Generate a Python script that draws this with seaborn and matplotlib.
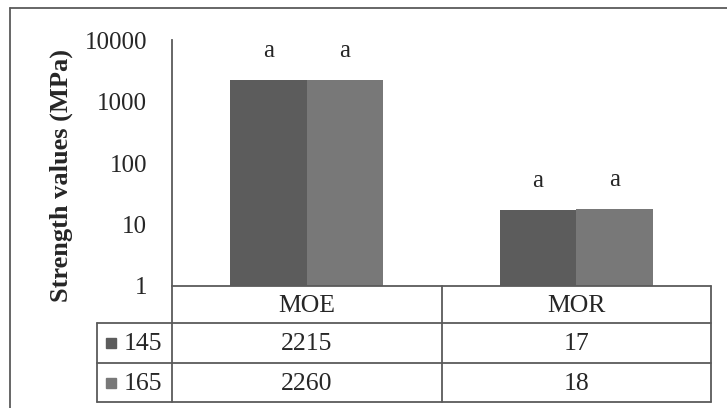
import pandas as pd
import matplotlib.pyplot as plt
import matplotlib.lines as mlines
import matplotlib.patches as mpatches
import seaborn as sns

# Data
properties = ['MOE', 'MOR']
temps = ['145', '165']
values_145 = [2215, 17]
values_165 = [2260, 18]
letters_145 = ['a', 'a']
letters_165 = ['a', 'a']
yticks = [1, 10, 100, 1000, 10000]

colors = ['#5c5c5c', '#787878']
line_col = '#5a5a5a'

df = pd.DataFrame({
    'Property': properties * 2,
    'Temp': [temps[0]] * len(properties) + [temps[1]] * len(properties),
    'Value': values_145 + values_165,
})

sns.set_style('white')
plt.rcParams['font.family'] = ['Liberation Serif', 'DejaVu Serif']

W, H = 727, 408
fig = plt.figure(figsize=(W / 100, H / 100), dpi=100)

# pixel layout
x_lab, x_left, x_right = 97, 172, 711
y_top, y_base, y_r1, y_r2, y_bot = 40, 286, 323, 363, 402

ax = fig.add_axes([x_left / W, (H - y_base) / H, (x_right - x_left) / W, (y_base - y_top) / H])
sns.barplot(data=df, x='Property', y='Value', hue='Temp', palette=colors,
            width=0.567, gap=0, saturation=1, edgecolor='none', legend=False, ax=ax)
ax.set_yscale('log')
ax.set_ylim(1, 10000)
ax.set_yticks(yticks)
ax.set_yticklabels([str(t) for t in yticks])
ax.minorticks_off()
ax.tick_params(axis='y', length=0, pad=18, labelsize=18)
ax.set_xticks([])
ax.set_xlabel('')
ax.set_ylabel('Strength values (MPa)', fontsize=19, fontweight='bold')
ax.yaxis.set_label_coords(-0.183, 0.45)
for s in ['top', 'right', 'bottom']:
    ax.spines[s].set_visible(False)
ax.spines['left'].set_color(line_col)
ax.spines['left'].set_linewidth(1.3)

for cont, lets in zip(ax.containers, [letters_145, letters_165]):
    ax.bar_label(cont, labels=lets, padding=13, fontsize=18)

# Data table under the bars
tab = fig.add_axes([x_lab / W, (H - y_bot) / H, (x_right - x_lab) / W, (y_bot - y_base) / H])
tab.set_xlim(x_lab, x_right)
tab.set_ylim(y_bot, y_base)
tab.axis('off')
kw = dict(color=line_col, lw=1.3, clip_on=False)
tab.plot([x_left, x_right], [y_base, y_base], **kw)
for y in [y_r1, y_r2, y_bot]:
    tab.plot([x_lab, x_right], [y, y], **kw)
tab.plot([x_lab, x_lab], [y_r1, y_bot], **kw)
col_w = (x_right - x_left) / len(properties)
for i in range(len(properties) + 1):
    xv = x_left + i * col_w
    tab.plot([xv, xv], [y_base, y_bot], **kw)

rows = [(y_r1, y_r2), (y_r2, y_bot)]
for i, p in enumerate(properties):
    cx = x_left + (i + 0.5) * col_w
    tab.text(cx, (y_base + y_r1) / 2 + 1, p, ha='center', va='center', fontsize=18.5)
    for (ya, yb), vals in zip(rows, [values_145, values_165]):
        tab.text(cx, (ya + yb) / 2 + 1, str(vals[i]), ha='center', va='center', fontsize=18.5)

for (ya, yb), t, c in zip(rows, temps, colors):
    yc = (ya + yb) / 2
    tab.add_patch(mpatches.Rectangle((106, yc - 5), 10, 10, color=c, clip_on=False))
    tab.text(124, yc + 1, t, ha='left', va='center', fontsize=18.5)

# outer chart frame (cropped at right and bottom)
fig.add_artist(mlines.Line2D([10 / W, 10 / W], [0, 1 - 8 / H], color=line_col, lw=1.3))
fig.add_artist(mlines.Line2D([10 / W, 1], [1 - 8 / H, 1 - 8 / H], color=line_col, lw=1.3))

plt.savefig('out.png', dpi=100)
